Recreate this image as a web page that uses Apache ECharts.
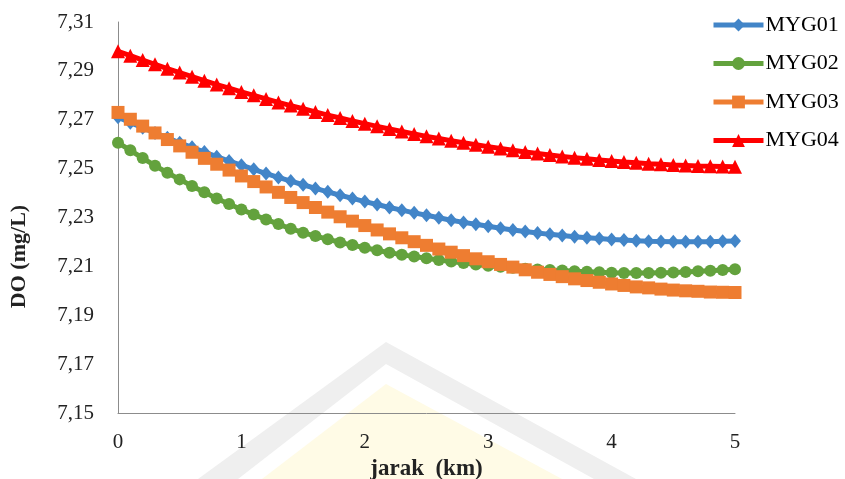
<!DOCTYPE html>
<html>
<head>
<meta charset="utf-8">
<script src="https://cdn.jsdelivr.net/npm/echarts@6/dist/echarts.min.js"></script>
<style>
html,body{margin:0;padding:0;background:#fff;}
#c{width:845px;height:479px;}
</style>
</head>
<body>
<div id="c"></div>
<script>
// jarak (km)
var jarak = [0,0.1,0.2,0.3,0.4,0.5,0.6,0.7,0.8,0.9,1,1.1,1.2,1.3,1.4,1.5,1.6,1.7,1.8,1.9,2,2.1,2.2,2.3,2.4,2.5,2.6,2.7,2.8,2.9,3,3.1,3.2,3.3,3.4,3.5,3.6,3.7,3.8,3.9,4,4.1,4.2,4.3,4.4,4.5,4.6,4.7,4.8,4.9,5];
var seriesNames = ['MYG01','MYG02','MYG03','MYG04'];
var MYG01 = [7.2710,7.2688,7.2667,7.2646,7.2626,7.2606,7.2587,7.2568,7.2549,7.2531,7.2514,7.2497,7.2480,7.2464,7.2449,7.2434,7.2419,7.2405,7.2391,7.2378,7.2365,7.2353,7.2341,7.2330,7.2319,7.2309,7.2299,7.2289,7.2280,7.2272,7.2264,7.2256,7.2249,7.2243,7.2237,7.2231,7.2226,7.2221,7.2217,7.2214,7.2210,7.2208,7.2205,7.2203,7.2202,7.2201,7.2201,7.2201,7.2201,7.2203,7.2204];
var MYG02 = [7.2606,7.2575,7.2543,7.2512,7.2483,7.2456,7.2429,7.2403,7.2378,7.2355,7.2333,7.2312,7.2292,7.2273,7.2254,7.2238,7.2224,7.2211,7.2198,7.2187,7.2176,7.2166,7.2156,7.2148,7.2140,7.2133,7.2126,7.2120,7.2114,7.2108,7.2103,7.2098,7.2094,7.2090,7.2087,7.2085,7.2083,7.2080,7.2078,7.2076,7.2074,7.2073,7.2073,7.2073,7.2074,7.2075,7.2077,7.2080,7.2082,7.2085,7.2088];
var MYG03 = [7.2730,7.2702,7.2674,7.2646,7.2619,7.2593,7.2567,7.2542,7.2518,7.2494,7.2470,7.2447,7.2425,7.2403,7.2382,7.2361,7.2341,7.2322,7.2303,7.2285,7.2267,7.2249,7.2233,7.2217,7.2201,7.2186,7.2171,7.2158,7.2144,7.2131,7.2119,7.2108,7.2097,7.2086,7.2076,7.2067,7.2058,7.2049,7.2042,7.2035,7.2028,7.2022,7.2016,7.2012,7.2007,7.2003,7.2000,7.1998,7.1995,7.1994,7.1993];
var MYG04 = [7.2980,7.2962,7.2944,7.2927,7.2909,7.2893,7.2876,7.2860,7.2844,7.2829,7.2814,7.2800,7.2785,7.2771,7.2758,7.2745,7.2732,7.2719,7.2707,7.2695,7.2684,7.2673,7.2662,7.2652,7.2642,7.2632,7.2623,7.2614,7.2606,7.2598,7.2590,7.2582,7.2575,7.2568,7.2562,7.2556,7.2550,7.2545,7.2540,7.2535,7.2531,7.2527,7.2524,7.2520,7.2518,7.2515,7.2513,7.2511,7.2510,7.2509,7.2508];
var yTicks = ['7,15','7,17','7,19','7,21','7,23','7,25','7,27','7,29','7,31'];
var xTicks = ['0','1','2','3','4','5'];

var values = [MYG01, MYG02, MYG03, MYG04];
var colors = ['#4285C8', '#63A23D', '#EE7D31', '#FF0000'];
var symbols = ['diamond', 'circle', 'rect', 'triangle'];
var sizes = [[12,14], 12, 13, 14];

function pairs(v){ return jarak.map(function(x,i){ return [x, v[i]]; }); }

var chart = echarts.init(document.getElementById('c'), null, {renderer:'canvas'});
var font = 'Liberation Serif, Times New Roman, serif';
chart.setOption({
  animation: false,
  backgroundColor: '#fff',
  graphic: [
    {type: 'polygon', z: -10, silent: true,
      shape: {points: [[262,479],[386,384],[562,479]]},
      style: {fill: '#fffbe6'}},
    {type: 'polygon', z: -10, silent: true,
      shape: {points: [[198,479],[386,342],[636,479],[594,479],[386,364],[238,479]]},
      style: {fill: '#efefef'}}
  ],
  grid: {left: 118, right: 110, top: 22, bottom: 66, containLabel: false, outerBoundsMode: 'none'},
  legend: {
    orient: 'vertical', left: 706, top: 8,
    itemWidth: 50, itemHeight: 16, itemGap: 14.5,
    lineStyle: {width: 5},
    textStyle: {fontFamily: font, fontSize: 22, lineHeight: 24, color: '#000', padding: [0,0,0,-3]},
    data: seriesNames
  },
  xAxis: {
    type: 'value', min: 0, max: 5, interval: 1,
    name: 'jarak  (km)', nameLocation: 'middle', nameGap: 40,
    nameTextStyle: {fontFamily: font, fontSize: 23, fontWeight: 'bold', color: '#222'},
    axisLine: {show: true, lineStyle: {color: '#8c8c8c', width: 1}},
    axisTick: {show: false},
    splitLine: {show: false},
    axisLabel: {fontFamily: font, fontSize: 21, color: '#222', margin: 19,
      formatter: function(v){ var i = Math.round(v); return xTicks[i]; }}
  },
  yAxis: {
    type: 'value', min: 7.15, max: 7.31, interval: 0.02,
    name: 'DO (mg/L)', nameLocation: 'middle', nameGap: 88, nameRotate: 90,
    nameTextStyle: {fontFamily: font, fontSize: 22, fontWeight: 'bold', color: '#222', padding: [0,0,0,-78]},
    axisLine: {show: true, lineStyle: {color: '#8c8c8c', width: 1}},
    axisTick: {show: false},
    splitLine: {show: false},
    axisLabel: {fontFamily: font, fontSize: 21, color: '#222', margin: 24,
      formatter: function(v){ var i = Math.round((v - 7.15) / 0.02); return yTicks[i]; }}
  },
  series: values.map(function(v, k){
    return {
      name: seriesNames[k], type: 'line', data: pairs(v),
      symbol: symbols[k], symbolSize: sizes[k], showSymbol: true,
      itemStyle: {color: colors[k]},
      lineStyle: {color: colors[k], width: 5},
      z: 2 + k
    };
  })
});
</script>
</body>
</html>
